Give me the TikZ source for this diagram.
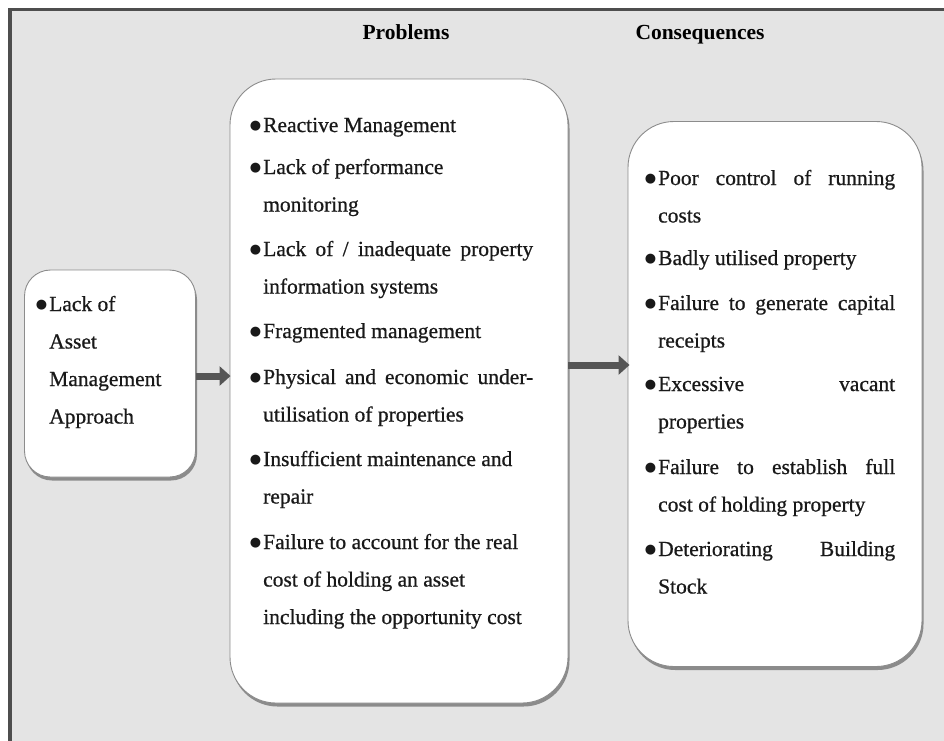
\documentclass[tikz,border=0pt]{standalone}
\usepackage{fontspec}
\setmainfont{Liberation Serif}
\newfontfamily\bodyfont[FakeBold=0.7]{Liberation Serif}
\newfontfamily\symfont{DejaVu Sans}
\usetikzlibrary{arrows.meta,shadows}
\definecolor{bgcol}{HTML}{E4E4E4}
\definecolor{framecol}{HTML}{4E4E4E}
\definecolor{arrcol}{HTML}{555555}
\newcommand{\bul}{\leavevmode\llap{\raisebox{2.5pt}{\symfont\fontsize{13}{13}\selectfont ●}\hspace{2pt}}}
\newcommand{\jl}[2]{\makebox[#1][s]{#2}}
\tikzset{
  panel/.style={draw=black!45, line width=0.9pt, fill=white, rounded corners=#1,
    drop shadow={shadow xshift=1.5pt, shadow yshift=-3.5pt, opacity=0.5, fill=black!80}},
  itemtext/.style={anchor=base west, inner sep=0pt, text=black!90, font=\bodyfont\fontsize{21.5}{37.5}\selectfont},
  header/.style={inner sep=0pt, anchor=base, font=\fontsize{21.5}{24}\selectfont\bfseries},
  bigarrow/.style={draw=arrcol, line width=7pt, -{Triangle[length=11pt,width=19pt]}}
}
\begin{document}
\begin{tikzpicture}[x=1pt,y=-1pt]
\useasboundingbox (0,0) rectangle (944,740);
\fill[white] (0,0) rectangle (944,740);
\fill[bgcol] (10,9.5) rectangle (960,760);
\draw[framecol, line width=3.5pt] (10,760) -- (10,9.5) -- (960,9.5);

% headers
\node[header] (hprob) at (406,39) {Problems};
\node[header] (hcons) at (700,39) {Consequences};

% boxes
\node[panel=26pt, minimum width=171pt, minimum height=207pt] (lbox) at (110,373.5) {};
\node[panel=46pt, minimum width=338pt, minimum height=624pt] (mbox) at (399,391) {};
\node[panel=46pt, minimum width=294pt, minimum height=545pt] (rbox) at (775,394) {};

% arrows
\coordinate (a1) at (0,376);
\coordinate (a2) at (0,365);
\draw[bigarrow] (lbox.east |- a1) -- ([xshift=1pt]mbox.west |- a1);
\draw[bigarrow] (mbox.east |- a2) -- ([xshift=2pt]rbox.west |- a2);

% left box text
\node[itemtext] (l1) at (49,311) {\parbox[t]{140pt}{\bul Lack of\\Asset\\Management\\Approach}};

% middle box text
\node[itemtext] (m1) at (263,132) {\parbox[t]{275pt}{\bul Reactive Management}};
\node[itemtext] (m2) at (263,174) {\parbox[t]{275pt}{\bul Lack of performance\\monitoring}};
\node[itemtext] (m3) at (263,256) {\parbox[t]{275pt}{\bul \jl{270pt}{Lack of / inadequate property}\\information systems}};
\node[itemtext] (m4) at (263,338) {\parbox[t]{275pt}{\bul Fragmented management}};
\node[itemtext] (m5) at (263,384) {\parbox[t]{275pt}{\bul \jl{270pt}{Physical and economic under-}\\utilisation of properties}};
\node[itemtext] (m6) at (263,466) {\parbox[t]{275pt}{\bul Insufficient maintenance and\\repair}};
\node[itemtext] (m7) at (263,549) {\parbox[t]{275pt}{\bul Failure to account for the real\\cost of holding an asset\\including the opportunity cost}};

% right box text
\node[itemtext] (r1) at (658,185) {\parbox[t]{240pt}{\bul \jl{237pt}{Poor control of running}\\costs}};
\node[itemtext] (r2) at (658,265) {\parbox[t]{240pt}{\bul Badly utilised property}};
\node[itemtext] (r3) at (658,310) {\parbox[t]{240pt}{\bul \jl{237pt}{Failure to generate capital}\\receipts}};
\node[itemtext] (r4) at (658,391) {\parbox[t]{240pt}{\bul \jl{237pt}{Excessive vacant}\\properties}};
\node[itemtext] (r5) at (658,474) {\parbox[t]{240pt}{\bul \jl{237pt}{Failure to establish full}\\cost of holding property}};
\node[itemtext] (r6) at (658,556) {\parbox[t]{240pt}{\bul \jl{237pt}{Deteriorating Building}\\Stock}};
\end{tikzpicture}
\end{document}
